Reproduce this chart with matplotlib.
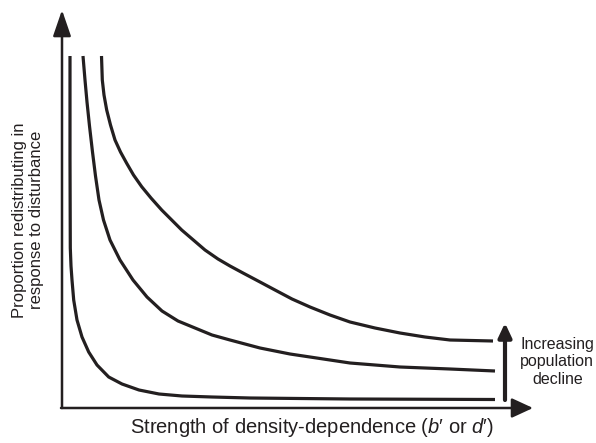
import matplotlib.pyplot as plt

plt.rcParams['font.family'] = ['Liberation Sans', 'DejaVu Sans']
plt.rcParams['mathtext.fontset'] = 'custom'
plt.rcParams['mathtext.rm'] = 'Liberation Sans'
plt.rcParams['mathtext.it'] = 'Liberation Sans:italic'

ink = '#231f20'

# schematic curves (no scale on the original axes)
low_x = [8, 8, 8.3, 9, 10, 11.7, 15, 20, 26.7, 35, 46.7, 60, 77, 97, 120, 150, 188, 288, 433]
low_y = [352, 250, 160, 142, 128, 108, 88, 71, 56, 43, 31, 24, 18, 14, 12, 11, 10, 9, 8.5]

mid_x = [21, 23, 25, 27.5, 30.5, 33.5, 37, 41.5, 48, 58, 71, 85, 100, 116, 133, 150, 168,
         198, 228, 248, 288, 338, 388, 433]
mid_y = [352, 328, 306, 282, 256, 232, 208, 188, 168, 148, 128, 111, 97, 87, 80, 73,
         68, 60, 54, 51, 45, 41, 39, 37]

high_x = [39.5, 40.3, 42, 44.7, 48.5, 53, 58.5, 64.7, 71.5, 79.7, 89, 99.7, 119.7, 143,
          156, 168, 181, 198, 213, 230, 248, 268, 288, 313, 338, 363, 388, 431]
high_y = [352, 328, 313, 298, 283, 268, 256, 244.7, 233, 221.3, 210, 198, 178, 158,
          149, 142, 135, 126, 118, 109, 101, 93, 86, 80, 75, 71, 68, 67]

decline_x = 443
decline_y = (8, 85)

fig = plt.figure(figsize=(5.96, 4.43), dpi=100)
ax = fig.add_axes([62 / 596, 35 / 443, 471 / 596, 398 / 443])
ax.set_xlim(0, 471)
ax.set_ylim(0, 398)
ax.axis('off')

for xs, ys in [(low_x, low_y), (mid_x, mid_y), (high_x, high_y)]:
    ax.plot(xs, ys, color=ink, lw=2.3, solid_capstyle='butt', solid_joinstyle='round')

# axes drawn as arrows
ax.annotate('', xy=(0, 398), xytext=(0, 0),
            arrowprops=dict(arrowstyle='-|>,head_length=1.6,head_width=0.55',
                            color=ink, lw=1.8, shrinkA=0, shrinkB=0),
            annotation_clip=False)
ax.annotate('', xy=(471, 0), xytext=(-1, 0),
            arrowprops=dict(arrowstyle='-|>,head_length=1.3,head_width=0.6',
                            color=ink, lw=1.8, shrinkA=0, shrinkB=0),
            annotation_clip=False)

ax.annotate('', xy=(decline_x, decline_y[1]), xytext=(decline_x, decline_y[0]),
            arrowprops=dict(arrowstyle='-|>,head_length=0.85,head_width=0.4',
                            color=ink, lw=3, shrinkA=0, shrinkB=0),
            annotation_clip=False)

fig.text(0.935, 0.183, 'Increasing\npopulation\ndecline', ha='center', va='center',
         fontsize=11.5, color=ink, linespacing=1.2)

fig.text(0.523, 0.036, "Strength of density-dependence ($b$\u2032 or $d$\u2032)",
         ha='center', va='center', fontsize=14.5, color=ink)
fig.text(0.047, 0.503, 'Proportion redistributing in\nresponse to disturbance',
         ha='center', va='center', rotation=90, fontsize=12, color=ink,
         linespacing=1.2)

fig.savefig('out.png', dpi=100)
